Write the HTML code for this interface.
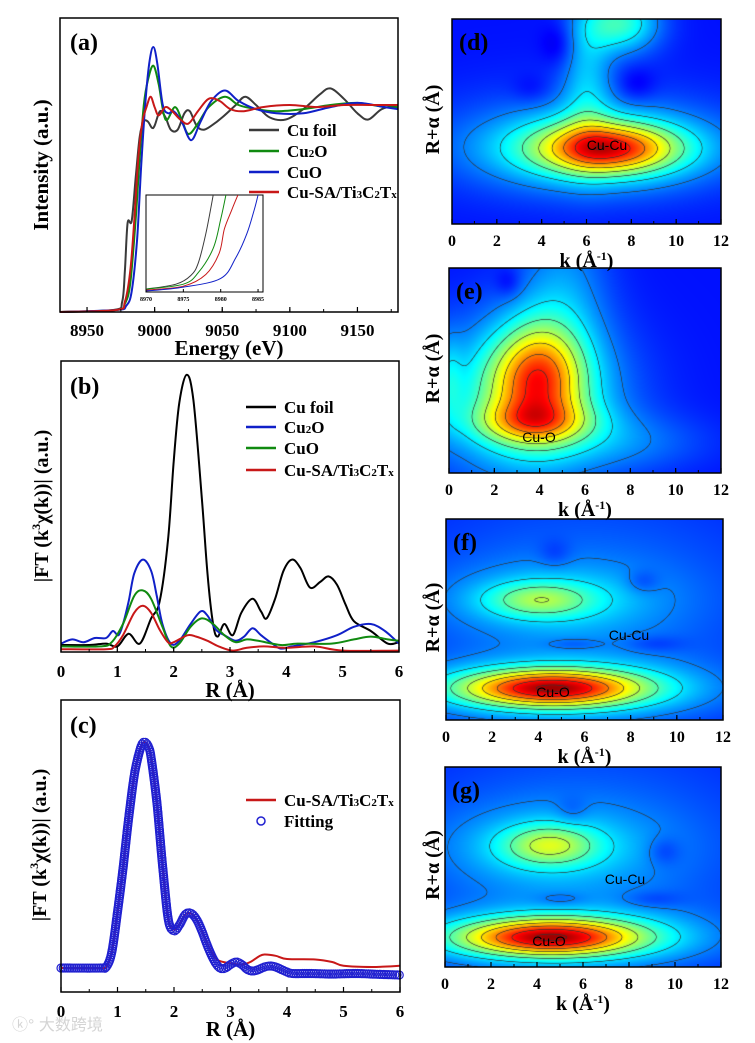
<!DOCTYPE html>
<html><head><meta charset="utf-8">
<style>
html,body{margin:0;padding:0;background:#fff;}
#root{position:relative;width:755px;height:1043px;overflow:hidden;background:#fff;}
canvas{position:absolute;}
svg{position:absolute;left:0;top:0;}
text{font-family:"Liberation Serif",serif;font-weight:bold;fill:#000;}
</style></head>
<body>
<div id="root">
<canvas id="cd" width="269" height="205" style="left:452px;top:19px"></canvas>
<canvas id="ce" width="272" height="205" style="left:449px;top:268px"></canvas>
<canvas id="cf" width="277" height="201" style="left:446px;top:519px"></canvas>
<canvas id="cg" width="276" height="200" style="left:445px;top:767px"></canvas>
<svg id="fig" width="755" height="1043" viewBox="0 0 755 1043"></svg>
</div>
<script>
// ---------- Panel (a) XANES data ----------
const aFoilE=[8930,8970,8976,8978,8980,8983,8986,8989,8992,8995,8998,9000,9004,9008,9012,9017,9022,9026,9031,9036,9042,9050,9060,9067,9075,9085,9097,9110,9122,9130,9140,9150,9158,9168,9180];
const aFoilV=[0,0.01,0.05,0.2,0.43,0.44,0.65,0.85,0.92,0.92,0.89,0.9,0.97,0.94,0.88,0.88,0.96,0.97,0.9,0.88,0.9,0.94,1.0,1.04,1.0,0.94,0.93,0.98,1.05,1.08,1.03,0.96,0.93,0.98,1.0];
const aCu2OE=[8930,8972,8978,8982,8986,8989,8992,8995,8999,9003,9008,9015,9020,9025,9032,9040,9052,9062,9075,9090,9110,9130,9150,9170,9180];
const aCu2OV=[0,0.01,0.04,0.14,0.45,0.75,1.0,1.12,1.19,1.1,0.93,0.99,0.93,0.86,0.91,0.99,1.04,1.0,0.98,0.97,0.98,1.0,1.01,0.99,0.99];
const aCuOE=[8930,8972,8979,8983,8987,8990,8993,8996,8999,9002,9006,9010,9014,9020,9027,9034,9042,9052,9062,9075,9090,9110,9130,9150,9170,9180];
const aCuOV=[0,0.01,0.03,0.1,0.35,0.7,1.0,1.2,1.28,1.2,1.0,0.96,0.97,0.92,0.83,0.92,1.02,1.07,1.02,0.98,0.96,0.96,0.99,1.01,0.99,0.98];
const aSAE=[8930,8972,8978,8982,8985,8988,8991,8994,8997,9000,9003,9008,9013,9019,9025,9032,9040,9048,9056,9066,9080,9100,9120,9140,9160,9180];
const aSAV=[0,0.01,0.05,0.2,0.45,0.75,0.92,0.99,1.04,0.99,0.95,0.99,0.97,0.93,0.91,0.97,1.03,1.02,0.98,0.97,0.99,1.0,0.99,1.0,1.0,1.0];
const aTicks=[8950,9000,9050,9100,9150];
// inset
const inFoilE=[8970,8974,8976,8977,8978,8979];
const inFoilV=[0.03,0.08,0.17,0.3,0.6,1.0];
const inCu2OE=[8970,8975,8977,8979,8980,8980.7];
const inCu2OV=[0.03,0.08,0.2,0.45,0.75,1.0];
const inSAE=[8970,8975,8978,8979.8,8980.5,8981.5,8982.3];
const inSAV=[0.02,0.06,0.18,0.4,0.65,0.85,1.0];
const inCuOE=[8970,8975,8980,8982,8983.5,8984.5,8985];
const inCuOV=[0.01,0.05,0.14,0.35,0.6,0.85,1.0];
const inTicks=[8970,8975,8980,8985];
// ---------- Panel (b) FT data ----------
const bFoilR=[0,0.5,0.8,1.0,1.2,1.4,1.6,1.75,1.9,2.0,2.1,2.23,2.35,2.5,2.6,2.7,2.78,2.9,3.05,3.2,3.4,3.55,3.65,3.8,3.95,4.1,4.25,4.42,4.6,4.75,4.9,5.05,5.2,5.5,5.8,6.0];
const bFoilV=[0.25,0.25,0.3,0.2,0.65,0.3,1.2,1.8,4.0,6.8,8.9,9.9,9.0,5.5,2.8,1.0,0.55,1.0,0.6,1.4,1.9,1.45,1.2,1.9,2.9,3.3,3.0,2.3,2.5,2.7,2.4,1.7,1.1,0.75,0.3,0.35];
const bCu2OR=[0,0.2,0.4,0.6,0.8,0.92,1.02,1.1,1.2,1.3,1.45,1.6,1.7,1.8,1.95,2.1,2.3,2.48,2.6,2.75,2.9,3.1,3.25,3.4,3.55,3.75,3.9,4.1,4.5,4.9,5.2,5.5,5.75,6.0];
const bCu2OV=[0.3,0.45,0.35,0.5,0.5,0.75,0.6,1.0,1.8,2.8,3.3,2.9,2.0,1.0,0.3,0.4,1.0,1.45,1.3,0.8,0.6,0.4,0.55,0.85,0.6,0.3,0.12,0.2,0.35,0.6,0.9,1.0,0.75,0.3];
const bCuOR=[0,0.7,0.9,1.1,1.3,1.45,1.6,1.8,1.95,2.1,2.3,2.5,2.7,2.9,3.1,3.3,3.5,3.9,4.2,4.8,5.2,5.5,5.8,6.0];
const bCuOV=[0.2,0.2,0.35,1.0,2.0,2.2,1.9,0.9,0.2,0.3,0.9,1.2,1.0,0.6,0.35,0.45,0.4,0.25,0.3,0.3,0.45,0.55,0.45,0.4];
const bSAR=[0,0.8,0.95,1.1,1.3,1.45,1.6,1.75,1.9,2.0,2.25,2.4,2.6,2.8,3.05,3.3,3.6,4.0,4.5,5.0,6.0];
const bSAV=[0.1,0.1,0.2,0.6,1.4,1.65,1.4,0.8,0.35,0.35,0.6,0.55,0.4,0.2,0.05,0.15,0.2,0.15,0.2,0.05,0.05];
const rTicks=[0,1,2,3,4,5,6];
// ---------- Panel (c) fit data ----------
const cFitR=[0,0.7,0.8,0.9,1.0,1.1,1.2,1.3,1.4,1.47,1.55,1.6,1.7,1.8,1.9,2.0,2.1,2.2,2.3,2.4,2.5,2.6,2.7,2.8,2.9,3.0,3.1,3.2,3.3,3.4,3.5,3.6,3.7,3.8,3.9,4.0,4.1,4.4,4.8,5.2,5.6,6.0];
const cFitV=[0.96,0.96,1.0,1.6,3.2,5.0,7.0,8.7,9.7,10,9.8,9.3,7.5,5.0,2.9,2.45,2.7,3.1,3.15,2.9,2.4,1.8,1.3,0.98,0.95,1.1,1.2,1.1,0.9,0.84,0.9,1.0,1.04,1.0,0.9,0.8,0.74,0.74,0.72,0.74,0.71,0.68];
const cDataR=[0,0.7,0.8,0.9,1.0,1.1,1.2,1.3,1.4,1.47,1.55,1.6,1.7,1.8,1.9,2.0,2.1,2.2,2.3,2.4,2.5,2.6,2.7,2.8,3.0,3.2,3.35,3.5,3.6,3.8,4.0,4.5,4.8,5.0,5.5,6.0];
const cDataV=[0.96,0.96,1.0,1.6,3.2,5.0,7.0,8.7,9.7,10,9.8,9.3,7.5,5.0,2.9,2.5,2.75,3.1,3.15,2.9,2.4,1.9,1.45,1.25,1.15,1.1,1.2,1.42,1.5,1.45,1.32,1.3,1.2,1.05,1.0,1.05];
// ---------- Wavelet maps: blobs [k, Rfrac, sigmaK, sigmaR, amplitude] ----------
const wtD=[[7,0.37,2.0,0.08,0.4],[6.5,0.37,3.3,0.12,0.28],[6,0.4,5,0.2,0.1],[7.5,0.98,1.2,0.1,0.28],[6,0.72,0.8,0.25,0.15],[4.7,0.88,0.5,0.07,-0.06],[8.2,0.68,0.6,0.06,-0.06],[3.5,0.66,0.6,0.05,-0.04]];
const wtE=[[3.9,0.47,1.3,0.18,0.38],[3.7,0.25,1.8,0.07,0.25],[3.5,0.38,2.4,0.24,0.25],[3,0.35,3.5,0.3,0.1],[5,0.9,1.4,0.3,0.12],[0,0.45,0.4,0.15,0.1],[8,0.15,2.5,0.1,0.08],[2.6,0.93,0.4,0.05,-0.06]];
const wtF=[[4.5,0.16,2.6,0.06,0.5],[4.8,0.16,3.8,0.09,0.2],[5,0.14,5.5,0.13,0.08],[6,0.6,6,0.4,0.1],[4,0.6,1.6,0.06,0.2],[4.5,0.6,3.2,0.12,0.12],[5.5,0.38,0.8,0.02,-0.05],[9,0.38,0.9,0.03,-0.05],[8.5,0.69,0.5,0.04,-0.06],[4.7,0.83,0.5,0.05,-0.05]];
const wtG=[[4.5,0.15,2.6,0.06,0.5],[4.8,0.15,3.8,0.09,0.2],[5,0.14,5.5,0.13,0.08],[6,0.6,6,0.4,0.1],[4.5,0.61,1.4,0.07,0.24],[4.5,0.6,3.2,0.14,0.12],[5,0.34,0.8,0.025,-0.05],[9,0.34,0.9,0.03,-0.05],[9.5,0.58,0.5,0.05,-0.06],[5.5,0.78,0.5,0.05,-0.05]];
const kTicks=[0,2,4,6,8,10,12];

const NS="http://www.w3.org/2000/svg";
const svg=document.getElementById('fig');
function mk(tag,attrs,parent){const e=document.createElementNS(NS,tag);for(const k in attrs)e.setAttribute(k,attrs[k]);(parent||svg).appendChild(e);return e;}
function smooth(pts){let d='M'+pts[0][0].toFixed(1)+','+pts[0][1].toFixed(1);for(let i=0;i<pts.length-1;i++){const p0=pts[i-1]||pts[i],p1=pts[i],p2=pts[i+1],p3=pts[i+2]||p2;const c1=[p1[0]+(p2[0]-p0[0])/6,p1[1]+(p2[1]-p0[1])/6],c2=[p2[0]-(p3[0]-p1[0])/6,p2[1]-(p3[1]-p1[1])/6];d+='C'+c1[0].toFixed(1)+','+c1[1].toFixed(1)+' '+c2[0].toFixed(1)+','+c2[1].toFixed(1)+' '+p2[0].toFixed(1)+','+p2[1].toFixed(1);}return d;}
function line(xs,vs,sx,sy,color,w,name,parent){const p=mk('path',{d:smooth(xs.map((x,i)=>[sx(x),sy(vs[i])])),fill:'none',stroke:color,'stroke-width':w,'stroke-linejoin':'round'},parent);


return p;}
function txt(x,y,s,size,name,anchor,extra){const t=mk('text',Object.assign({x:x,y:y,'font-size':size,'text-anchor':anchor||'start'},extra||{}));t.textContent=s;


return t;}
function frame(x0,y0,x1,y1,name){const r=mk('rect',{x:x0,y:y0,width:x1-x0,height:y1-y0,fill:'none',stroke:'#000','stroke-width':1.5});

}
function xticks(vals,sx,yb,minorStep,lo,hi,labelY,name,size){vals.forEach(v=>{mk('line',{x1:sx(v),x2:sx(v),y1:yb,y2:yb-5,stroke:'#000','stroke-width':1.2});txt(sx(v),labelY,String(v),size||17,name+'-tick-'+v,'middle');});
if(minorStep){for(let v=lo;v<=hi+1e-9;v+=minorStep){mk('line',{x1:sx(v),x2:sx(v),y1:yb,y2:yb-3,stroke:'#000','stroke-width':1});}}}
function legend(x,y,color,label,name){const l=mk('line',{x1:x,x2:x+30,y1:y,y2:y,stroke:color,'stroke-width':2.5});


const t=mk('text',{x:x+38,y:y+6,'font-size':17});t.innerHTML=label;

}
const SUB=(s)=>'<tspan font-size="11">'+s+'</tspan>';
const SA='Cu-SA/Ti'+SUB('3')+'C'+SUB('2')+'T'+SUB('x');

// ===== Panel a =====
const xa=e=>60+(e-8930)/250*338, ya=v=>312-v*207;
line(aFoilE,aFoilV,xa,ya,'#3a3a3a',2,'cu-foil-xanes');
line(aCu2OE,aCu2OV,xa,ya,'#108a10',2,'cu2o-xanes');
line(aCuOE,aCuOV,xa,ya,'#1020c8',2,'cuo-xanes');
line(aSAE,aSAV,xa,ya,'#c81818',2,'cu-sa-xanes');
frame(60,18,398,312,'panel-a-frame');
xticks(aTicks,xa,312,25,8950,9175,336,'a-x',17);
txt(xa(9055),355,'Energy (eV)',21,'a-x-axis-title','middle');
txt(48,165,'Intensity (a.u.)',21,'a-y-axis-title','middle',{transform:'rotate(-90 48 165)'});
txt(70,50,'(a)',24,'panel-a-label');
legend(249,130,'#3a3a3a','Cu foil','legend-cu-foil');
legend(249,151,'#108a10','Cu'+SUB('2')+'O','legend-cu2o');
legend(249,172,'#1020c8','CuO','legend-cuo');
legend(249,192,'#c81818',' '+SA,'legend-cu-sa');
// inset
const ig=mk('g',{});


mk('rect',{x:146,y:195,width:117,height:97,fill:'#fff',stroke:'#000','stroke-width':1},ig);
const clip=mk('clipPath',{id:'inclip'});mk('rect',{x:146,y:195,width:117,height:97},clip);
const ig2=mk('g',{'clip-path':'url(#inclip)'},ig);
const xi=e=>146+(e-8970)*7.47, yi=v=>292-v*97;
line(inFoilE,inFoilV,xi,yi,'#3a3a3a',1,'inset-cu-foil',ig2);
line(inCu2OE,inCu2OV,xi,yi,'#108a10',1,'inset-cu2o',ig2);
line(inSAE,inSAV,xi,yi,'#c81818',1,'inset-cu-sa',ig2);
line(inCuOE,inCuOV,xi,yi,'#1020c8',1,'inset-cuo',ig2);
inTicks.forEach(v=>{mk('line',{x1:xi(v),x2:xi(v),y1:292,y2:289,stroke:'#000'},ig);txt(xi(v),301,String(v),6,'inset-tick-'+v,'middle');});

// ===== Panel b =====
const xb=r=>61+r/6*338, yb=v=>652-v*28;
line(bFoilR,bFoilV,xb,yb,'#000',2,'cu-foil-ft');
line(bCu2OR,bCu2OV,xb,yb,'#1020c8',2,'cu2o-ft');
line(bCuOR,bCuOV,xb,yb,'#108a10',2,'cuo-ft');
line(bSAR,bSAV,xb,yb,'#c81818',2,'cu-sa-ft');
frame(61,361,399,652,'panel-b-frame');
xticks(rTicks,xb,652,0.5,0,6,677,'b-x',17);
txt(xb(3),697,'R (Å)',21,'b-x-axis-title','middle');
const by=mk('text',{x:48,y:506,'font-size':20,'text-anchor':'middle',transform:'rotate(-90 48 506)'});by.innerHTML='|FT (k<tspan font-size="12" dy="-8">3</tspan><tspan dy="8">χ(k))| (a.u.)</tspan>';


txt(70,394,'(b)',24,'panel-b-label');
legend(246,407,'#000','Cu foil','legend-b-cu-foil');
legend(246,427,'#1020c8','Cu'+SUB('2')+'O','legend-b-cu2o');
legend(246,448,'#108a10','CuO','legend-b-cuo');
legend(246,470,'#c81818',' '+SA,'legend-b-cu-sa');

// ===== Panel c =====
const xc=r=>61+r/6*339, yc=v=>992-v*25;
const fitPath=line(cFitR,cFitV,xc,yc,'none',0,'fit-path');
line(cDataR,cDataV,xc,yc,'#c81818',2,'cu-sa-ft-data');
const fg=mk('g',{});


const L=fitPath.getTotalLength();
for(let s=0;s<=L;s+=2.2){const p=fitPath.getPointAtLength(s);mk('circle',{cx:p.x,cy:p.y,r:4,fill:'none',stroke:'#2020d0','stroke-width':1.2},fg);}
frame(61,700,400,992,'panel-c-frame');
xticks(rTicks,xc,992,0.5,0,6,1017,'c-x',17);
txt(xc(3),1036,'R (Å)',21,'c-x-axis-title','middle');
const cy=mk('text',{x:46,y:845,'font-size':20,'text-anchor':'middle',transform:'rotate(-90 46 845)'});cy.innerHTML='|FT (k<tspan font-size="12" dy="-8">3</tspan><tspan dy="8">χ(k))| (a.u.)</tspan>';


txt(70,733,'(c)',24,'panel-c-label');
legend(246,800,'#c81818',SA,'legend-c-cu-sa');
const lc=mk('circle',{cx:261,cy:821,r:4,fill:'none',stroke:'#2020d0','stroke-width':1.5});


txt(284,827,'Fitting',17,'legend-fitting');
const wm=mk('text',{x:12,y:1030,'font-size':16});
wm.setAttribute('style','font-family:"Liberation Sans","Noto Sans CJK SC",sans-serif;fill:#d4d4d4;font-weight:normal');
wm.textContent='ⓚ° 大数跨境';



// ===== Wavelet maps =====
function jet(x){x=Math.max(0,Math.min(1,x));const c=v=>Math.round(255*Math.max(0,Math.min(1,v)));return [c(1.5-Math.abs(4*x-3)),c(1.5-Math.abs(4*x-2)),c(1.5-Math.abs(4*x-1))];}
function drawMap(id,blobs){const cv=document.getElementById(id),ctx=cv.getContext('2d'),W=cv.width,H=cv.height;const img=ctx.createImageData(W,H);
const f=new Float32Array(W*H);
for(let j=0;j<H;j++)for(let i=0;i<W;i++){const k=i/W*12,r=1-j/H;let v=0.14;blobs.forEach(b=>{v+=b[4]*Math.exp(-((k-b[0])**2)/(2*b[2]*b[2])-((r-b[1])**2)/(2*b[3]*b[3]));});f[j*W+i]=v;}
const step=0.1;
for(let j=0;j<H;j++)for(let i=0;i<W;i++){const v=f[j*W+i];let c=jet(v);
const lv=(v-0.05)/step,fr=Math.abs(lv-Math.round(lv));
const gx=(f[j*W+Math.min(W-1,i+1)]-f[j*W+Math.max(0,i-1)])/2,gy=(f[Math.min(H-1,j+1)*W+i]-f[Math.max(0,j-1)*W+i])/2;
const g=Math.sqrt(gx*gx+gy*gy)/step+1e-6;
const d=fr/g;
if(v>0.22&&d<0.7){const a=Math.min(1,(0.7-d)/0.5)*0.75;c=c.map(q=>Math.round(q*(1-a)+50*a));}
const o=(j*W+i)*4;img.data[o]=c[0];img.data[o+1]=c[1];img.data[o+2]=c[2];img.data[o+3]=255;}
ctx.putImageData(img,0,0);}
drawMap('cd',wtD);drawMap('ce',wtE);drawMap('cf',wtF);drawMap('cg',wtG);
const maps=[['d',452,19,721,224],['e',449,268,721,473],['f',446,519,723,720],['g',445,767,721,967]];
maps.forEach(m=>{const [n,x0,y0,x1,y1]=m;frame(x0,y0,x1,y1,'panel-'+n+'-frame');
const sx=k=>x0+k/12*(x1-x0);
xticks(kTicks,sx,y1,1,0,12,y1+22,n+'-k',16);
const kt=mk('text',{x:(x0+x1)/2,y:y1+43,'font-size':20,'text-anchor':'middle'});kt.innerHTML='k (Å<tspan font-size="12" dy="-7">-1</tspan><tspan dy="7">)</tspan>';


const yc2=(y0+y1)/2-2;
txt(439,yc2,'R+α (Å)',20,n+'-y-axis-title','middle',{transform:'rotate(-90 439 '+yc2+')'});
txt(x0+7,y0+31,'('+n+')',24,'panel-'+n+'-label');});
const lab=(x,y,s,n)=>{const t=mk('text',{x:x,y:y,'font-size':14,'text-anchor':'middle',style:'font-family:"Liberation Sans",sans-serif;font-weight:normal'});t.textContent=s;

};
lab(607,150,'Cu-Cu','d-cu-cu-label');
lab(539,442,'Cu-O','e-cu-o-label');
lab(553,697,'Cu-O','f-cu-o-label');
lab(629,640,'Cu-Cu','f-cu-cu-label');
lab(549,946,'Cu-O','g-cu-o-label');
lab(625,884,'Cu-Cu','g-cu-cu-label');
</script>
</body></html>
